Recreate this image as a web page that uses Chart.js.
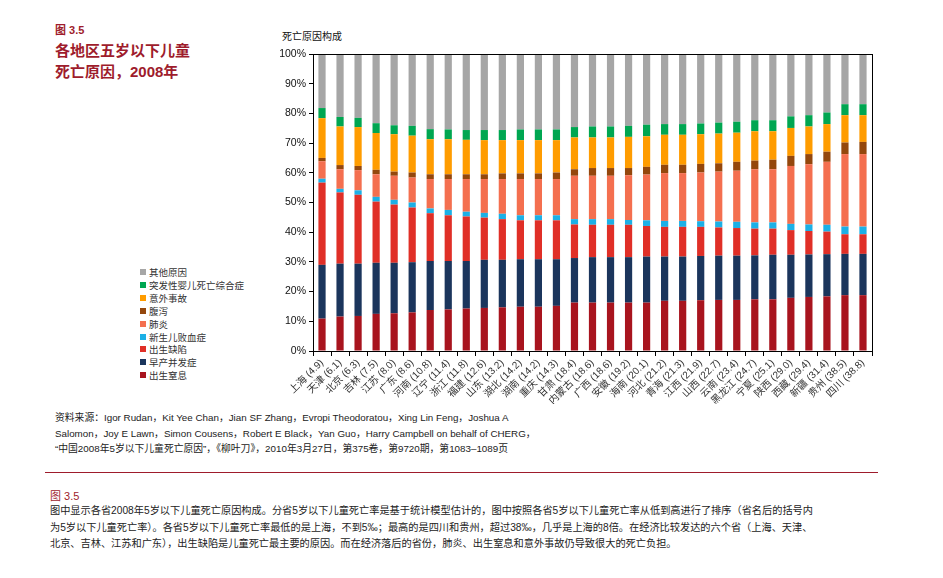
<!DOCTYPE html>
<html><head><meta charset="utf-8">
<script src="https://cdn.jsdelivr.net/npm/chart.js@4.4.1/dist/chart.umd.min.js"></script>
<style>
body{margin:0;width:943px;height:578px;background:#fff;position:relative;font-family:"Liberation Sans","Noto Sans CJK SC",sans-serif;overflow:hidden}
.abs{position:absolute;white-space:nowrap}
#fig{left:55px;top:21px;font-size:11px;font-weight:bold;color:#9e1c2c}
.title{left:55px;font-size:15px;font-weight:bold;color:#9e1c2c}
#ytitle{left:282px;top:28px;font-size:10px;color:#111}
#legend{left:140px;top:267px;font-size:9.5px;color:#333;line-height:12.9px}
#legend .sw{display:inline-block;width:6px;height:6px;margin-right:3px;vertical-align:1px}
#src{left:55px;top:410px;font-size:9.8px;color:#222;line-height:15.5px}
#rule{left:45px;top:472px;width:833px;height:1px;background:#9e1c2c}
#fig2{left:50px;top:487px;font-size:11px;color:#9e1c2c}
#cap{left:50px;top:503px;font-size:10.2px;color:#222;line-height:16.6px}
#wrap{left:270px;top:44px;width:612px;height:360px}
</style></head><body>
<div class="abs" id="fig">图 3.5</div>
<div class="abs title" style="top:39px">各地区五岁以下儿童</div>
<div class="abs title" style="top:60px">死亡原因，2008年</div>
<div class="abs" id="ytitle">死亡原因构成</div>
<div class="abs" id="legend"></div>
<div class="abs" id="wrap"><canvas id="c" width="612" height="360"></canvas></div>
<div class="abs" id="src">资料来源：Igor Rudan，Kit Yee Chan，Jian SF Zhang，Evropi Theodoratou，Xing Lin Feng，Joshua A<br>Salomon，Joy E Lawn，Simon Cousens，Robert E Black，Yan Guo，Harry Campbell on behalf of CHERG，<br>“中国2008年5岁以下儿童死亡原因”，《柳叶刀》，2010年3月27日，第375卷，第9720期，第1083–1089页</div>
<div class="abs" id="rule"></div>
<div class="abs" id="fig2">图 3.5</div>
<div class="abs" id="cap">图中显示各省2008年5岁以下儿童死亡原因构成。分省5岁以下儿童死亡率是基于统计模型估计的，图中按照各省5岁以下儿童死亡率从低到高进行了排序（省名后的括号内<br>为5岁以下儿童死亡率）。各省5岁以下儿童死亡率最低的是上海，不到5‰；最高的是四川和贵州，超过38‰，几乎是上海的8倍。在经济比较发达的六个省（上海、天津、<br>北京、吉林、江苏和广东），出生缺陷是儿童死亡最主要的原因。而在经济落后的省份，肺炎、出生窒息和意外事故仍导致很大的死亡负担。</div>
<script>
const provinces = ["上海 (4.9)","天津 (6.1)","北京 (6.3)","吉林 (7.5)","江苏 (8.0)","广东 (8.6)","河南 (10.8)","辽宁 (11.4)","浙江 (11.8)","福建 (12.6)","山东 (13.2)","湖北 (14.2)","湖南 (14.2)","重庆 (14.3)","甘肃 (18.4)","内蒙古 (18.6)","广西 (18.6)","安徽 (19.2)","海南 (20.1)","河北 (21.2)","青海 (21.3)","江西 (21.9)","山西 (22.7)","云南 (23.4)","黑龙江 (24.7)","宁夏 (25.1)","陕西 (29.0)","西藏 (29.4)","新疆 (31.4)","贵州 (38.5)","四川 (38.8)"];
const yTicks = [0,10,20,30,40,50,60,70,80,90,100];

const asphyxia   = [10.9,11.6,11.8,12.5,12.7,13.0,13.8,14.0,14.3,14.5,14.7,14.9,14.9,15.2,16.3,16.3,16.3,16.3,16.3,16.9,16.9,17.1,17.2,17.2,17.4,17.4,17.9,18.2,18.4,18.8,18.8];
const preterm    = [18.1,17.8,17.6,17.2,17.0,16.9,16.5,16.3,16.0,16.2,16.0,16.0,16.0,15.7,15.0,15.3,15.3,15.3,15.5,14.9,14.9,14.9,14.9,14.9,14.8,15.0,14.5,14.3,14.2,13.9,13.9];
const defects    = [27.7,24.0,23.2,20.6,19.6,18.4,16.1,15.4,15.0,14.2,13.7,13.1,13.1,13.1,11.3,10.9,10.9,10.9,10.3,10.0,10.0,9.8,9.5,9.3,9.0,8.8,8.3,7.9,7.6,6.6,6.6];
const sepsis     = [1.3,1.2,1.5,1.6,1.6,1.7,1.6,1.8,1.6,1.6,1.8,1.7,1.7,1.7,1.8,1.9,1.9,1.6,1.9,2.0,2.0,1.9,2.0,2.1,2.1,2.1,2.1,2.2,2.3,2.6,2.6];
const pneumonia  = [5.9,6.6,6.8,7.6,8.1,8.4,9.9,10.4,11.0,11.4,11.7,12.2,12.2,12.2,14.6,14.6,14.6,15.1,15.4,16.1,16.1,16.4,16.8,17.2,17.9,17.9,19.5,20.3,21.2,24.4,24.4];
const diarrhea   = [1.1,1.4,1.4,1.5,1.4,1.7,1.6,1.6,1.6,1.6,1.9,1.9,1.9,2.2,2.2,2.6,2.6,2.4,2.6,2.8,2.8,2.9,2.8,3.0,2.9,3.2,3.4,3.4,3.4,3.9,4.1];
const accident   = [13.4,13.0,13.1,12.4,12.6,12.4,11.8,11.8,11.6,11.5,11.2,11.2,11.2,10.9,10.7,10.3,10.3,10.5,10.3,10.1,10.1,10.0,10.0,9.8,9.9,9.6,9.4,9.3,9.3,9.2,9.0];
const sids       = [3.4,3.2,3.1,3.3,3.0,3.3,3.4,3.3,3.3,3.4,3.4,3.6,3.6,3.6,3.5,3.7,3.7,3.7,3.9,3.6,3.6,3.6,3.7,3.7,3.7,3.7,3.9,3.8,3.9,3.7,3.7];
const other      = [18.2,21.2,21.5,23.3,24.0,24.2,25.3,25.4,25.6,25.6,25.6,25.4,25.4,25.4,24.6,24.4,24.4,24.2,23.8,23.6,23.6,23.4,23.1,22.8,22.3,22.3,21.0,20.6,19.7,16.9,16.9];

const seriesNames = ["出生窒息","早产并发症","出生缺陷","新生儿败血症","肺炎","腹泻","意外事故","突发性婴儿死亡综合症","其他原因"];
const seriesData = [asphyxia,preterm,defects,sepsis,pneumonia,diarrhea,accident,sids,other];
const seriesColors = ["#a8141e","#1b355c","#e02f27","#1cb0e6","#f46f4f","#94470c","#ff9c00","#00a651","#a6a6a6"];

// HTML legend (reverse order)
const lg = document.getElementById('legend');
for (let i = seriesNames.length - 1; i >= 0; i--) {
  const d = document.createElement('div');
  d.innerHTML = '<span class="sw" style="background:'+seriesColors[i]+'"></span>' + seriesNames[i];
  lg.appendChild(d);
}

const framePlugin = {
  id:'frame',
  afterDatasetsDraw(chart){
    const {ctx, chartArea:a} = chart;
    ctx.save();
    ctx.strokeStyle = '#000'; ctx.lineWidth = 1;
    ctx.strokeRect(Math.round(a.left)+0.5, Math.round(a.top)+0.5, Math.round(a.right-a.left), Math.round(a.bottom-a.top));
    ctx.restore();
  }
};

new Chart(document.getElementById('c'), {
  type:'bar',
  data:{
    labels: provinces,
    datasets: seriesNames.map((n,i)=>({label:n, data:seriesData[i], backgroundColor:seriesColors[i], borderWidth:0, barPercentage:0.4, categoryPercentage:1}))
  },
  options:{
    responsive:false, animation:false,
    layout:{padding:{top:10,right:10,left:0,bottom:0}},
    plugins:{legend:{display:false}, tooltip:{enabled:false}},
    scales:{
      x:{stacked:true,
        grid:{display:true, drawOnChartArea:false, drawTicks:true, tickLength:5, color:'#000', offset:true},
        border:{display:true, color:'#000'},
        ticks:{maxRotation:45, minRotation:45, autoSkip:false, color:'#333', font:{size:10, family:'"Liberation Sans","Noto Sans CJK SC"'}, padding:1},
        afterFit(s){ s.height = 53; }
      },
      y:{stacked:true, min:0, max:100,
        afterBuildTicks(s){ s.ticks = yTicks.map(v=>({value:v})); },
        grid:{display:true, drawOnChartArea:false, drawTicks:true, tickLength:4, color:'#000'},
        border:{display:true, color:'#000'},
        ticks:{callback:v=>v+'%', color:'#111', font:{size:10.5, family:'"Liberation Sans"'}, padding:3},
        afterFit(s){ s.width = 43; }
      }
    }
  },
  plugins:[framePlugin]
});
</script>
</body></html>
